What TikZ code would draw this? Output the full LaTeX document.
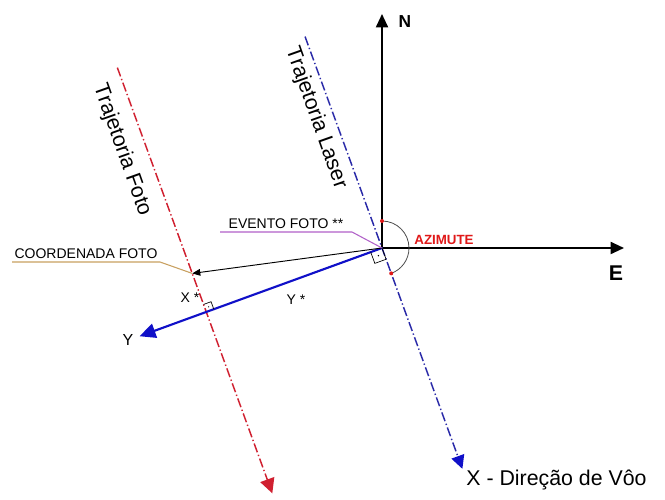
\documentclass[tikz,border=0pt]{standalone}
\usepackage{fontspec}
\setmainfont{Liberation Sans}
\usepackage{xcolor}
\usetikzlibrary{calc,arrows.meta}
\definecolor{laserline}{HTML}{2A2AA8}
\definecolor{fotoline}{HTML}{D02030}
\definecolor{yaxis}{HTML}{1010C8}
\definecolor{eventoline}{HTML}{B060C8}
\definecolor{coordline}{HTML}{C8A060}
\definecolor{azred}{HTML}{E01818}

\begin{document}
\begin{tikzpicture}[x=0.75pt,y=0.75pt,line width=0.6pt,
  dashdot/.style={line width=1.1pt,dash pattern=on 7pt off 2pt on 1pt off 2pt},
  lbl/.style={inner sep=0pt,font=\fontsize{10.5}{12}\selectfont}]
\useasboundingbox (0,0) rectangle (665,500);
\coordinate (O) at (382,252);
\coordinate (P) at ($(O)+(200:187)$);
\coordinate (C) at ($(P)+(110:41)$);
\coordinate (Ntip) at (382,486);
\coordinate (Etip) at (624,252);
\coordinate (Ytip) at ($(O)+(200:258)$);
\coordinate (Ls) at ($(O)+(110:225)$);
\coordinate (Le) at ($(O)+(-70:235)$);
\coordinate (Fs) at ($(P)+(110:260)$);
\coordinate (Fe) at ($(P)+(-70:193)$);
\coordinate (Ev) at (352,268);
\coordinate (Ev2) at (220,268);
\coordinate (Co) at (160,238);
\coordinate (Co2) at (12,238);
\draw[line width=1.4pt,-{Triangle[length=10pt,width=9pt]}] (O)--(Ntip);
\draw[line width=1.4pt,-{Triangle[length=10pt,width=9pt]}] (O)--(Etip);
\draw[laserline,dashdot,-{Triangle[length=10pt,width=10pt,yaxis]}] (Ls)--(Le);
\draw[fotoline,dashdot,-{Triangle[length=11pt,width=11pt]}] (Fs)--(Fe);
\draw[yaxis,line width=1.6pt,-{Triangle[length=12pt,width=11pt]}] (O)--(Ytip);
\draw[line width=0.7pt,-{Triangle[length=6pt,width=5pt]}] (O)--(C);
\draw[eventoline,line width=0.8pt] (O)--(Ev)--(Ev2);
\draw[coordline,line width=0.8pt] (C)--(Co)--(Co2);
\draw[line width=0.5pt] (O)--($(O)+(-70:12)$)--($(O)+(-70:12)+(200:12)$)--($(O)+(200:12)$);
\fill ($(O)+(-70:6)+(200:6)$) circle (0.8);
\draw[line width=0.5pt] ($(P)+(110:8)$)--($(P)+(110:8)+(20:8)$)--($(P)+(20:8)$);
\fill ($(P)+(110:4)+(20:4)$) circle (0.6);
\draw[line width=0.6pt,black!70] ($(O)+(90:27)$) arc[start angle=90,end angle=-70,radius=27];
\fill[azred] ($(O)+(90:27)$) circle (2);
\fill[azred] ($(O)+(-70:27)$) circle (2);
\node[font=\bfseries\fontsize{13}{15}\selectfont] (nlbl) at (405,478) {N};
\node[font=\bfseries\fontsize{16}{18}\selectfont] (elbl) at (616,227) {E};
\node[lbl,font=\bfseries\fontsize{10}{12}\selectfont,azred] (azimute) at (444,260) {AZIMUTE};
\node[lbl,anchor=south] (evento) at ($(Ev)!0.5!(Ev2)+(0,3)$) {EVENTO FOTO **};
\node[lbl,anchor=south] (coord) at ($(Co)!0.5!(Co2)+(0,3)$) {COORDENADA FOTO};
\node[lbl] (xstar) at (190,202) {X *};
\node[lbl] (ystar) at (296,200) {Y *};
\node[lbl,font=\fontsize{12}{14}\selectfont] (ylbl) at (128,160) {Y};
\node[anchor=west,inner sep=0pt,font=\fontsize{16}{18}\selectfont] (xdir) at (466,20) {X - Direção de Vôo};
\node[rotate=-70.5,font=\fontsize{16}{18}\selectfont] (laser) at (316,382) {Trajetoria Laser};
\node[rotate=-70.5,font=\fontsize{16}{18}\selectfont] (foto) at (122,350) {Trajetoria Foto};
\end{tikzpicture}
\end{document}
